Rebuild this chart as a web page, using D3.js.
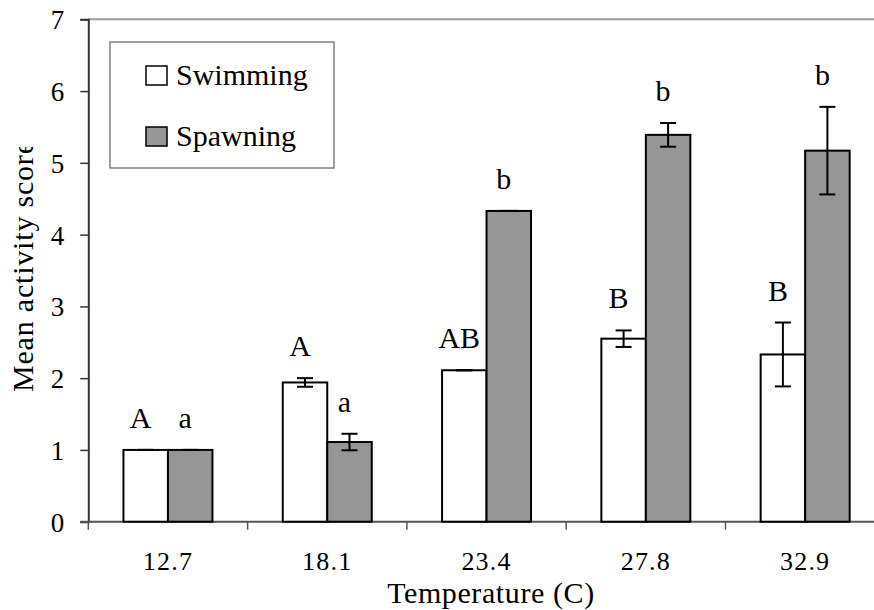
<!DOCTYPE html>
<html>
<head>
<meta charset="utf-8">
<script src="https://cdn.jsdelivr.net/npm/d3@7/dist/d3.min.js"></script>
<style>
  html, body { margin: 0; padding: 0; background: #fff; }
  svg { display: block; }
  text { font-family: "Liberation Serif", "Times New Roman", serif; fill: #000; }
</style>
</head>
<body>
<svg id="chart" width="874" height="610"></svg>
<script>
// Temperatures (C) at which activity was scored
const categories = ["12.7", "18.1", "23.4", "27.8", "32.9"];
const seriesNames = ["Swimming", "Spawning"];

// Mean activity scores and their error bars
const swimming = [1.00, 1.94, 2.11, 2.55, 2.33];
const swimmingErr = [0.00, 0.06, 0.00, 0.115, 0.445];
const spawning = [1.00, 1.11, 4.33, 5.39, 5.17];
const spawningErr = [0.00, 0.115, 0.00, 0.165, 0.61];

// Significance groupings printed above the bars
const swimmingLetters = ["A", "A", "AB", "B", "B"];
const spawningLetters = ["a", "a", "b", "b", "b"];

const yTicks = [0, 1, 2, 3, 4, 5, 6, 7];

const fills = { Swimming: "#ffffff", Spawning: "#969696" };

const svg = d3.select("#chart");

const plotLeft = 88.3, plotTop = 19.3, plotBottom = 521.7;
const catWidth = 159.3;
const barWidth = 44.5;

const x0 = d3.scaleBand()
  .domain(categories)
  .range([plotLeft, plotLeft + catWidth * categories.length])
  .padding(0);

const y = d3.scaleLinear().domain([0, 7]).range([plotBottom, plotTop]);

// Build rows from the arrays
const rows = categories.map((c, i) => [
  { cat: c, series: "Swimming", value: swimming[i], err: swimmingErr[i], letter: swimmingLetters[i] },
  { cat: c, series: "Spawning", value: spawning[i], err: spawningErr[i], letter: spawningLetters[i] }
]).flat();

const x1 = d3.scaleBand().domain(seriesNames).range([0, barWidth * 2]).padding(0);
const barX = d => x0(d.cat) + (x0.bandwidth() - barWidth * 2) / 2 + x1(d.series);

// Top frame line of the plot area
svg.append("line")
  .attr("x1", plotLeft).attr("x2", 874)
  .attr("y1", plotTop).attr("y2", plotTop)
  .attr("stroke", "#9a9a9a").attr("stroke-width", 2);

// Y axis
const yAxis = d3.axisLeft(y).tickValues(yTicks).tickFormat(d3.format("d")).tickSize(8).tickPadding(16);
const gy = svg.append("g").attr("transform", `translate(${plotLeft},0)`).call(yAxis)
  .attr("font-family", null);
gy.select(".domain").attr("stroke", "#333").attr("stroke-width", 2);
gy.selectAll(".tick line").attr("stroke", "#333").attr("stroke-width", 1.5);
gy.selectAll(".tick text")
  .attr("font-size", 27).attr("fill", "#000")
  .attr("dy", "0.35em");

// X axis: ticks sit on the category boundaries, labels at group centres
const gx = svg.append("g").attr("transform", `translate(0,${plotBottom})`);
gx.append("line")
  .attr("x1", plotLeft - 8).attr("x2", plotLeft + catWidth * categories.length)
  .attr("stroke", "#555").attr("stroke-width", 2);
const boundaries = d3.range(categories.length + 1).map(i => plotLeft + i * catWidth);
gx.selectAll("line.xt").data(boundaries).join("line")
  .attr("class", "xt")
  .attr("x1", d => d).attr("x2", d => d)
  .attr("y1", 0).attr("y2", 8)
  .attr("stroke", "#555").attr("stroke-width", 1.5);
gx.selectAll("text").data(categories).join("text")
  .attr("x", d => x0(d) + x0.bandwidth() / 2)
  .attr("y", 48)
  .attr("text-anchor", "middle")
  .attr("font-size", 26)
  .attr("letter-spacing", 1.2)
  .text(d => d);

// Bars
svg.append("g").selectAll("rect").data(rows).join("rect")
  .attr("x", barX)
  .attr("y", d => y(d.value))
  .attr("width", barWidth)
  .attr("height", d => y(0) - y(d.value))
  .attr("fill", d => fills[d.series])
  .attr("stroke", "#000")
  .attr("stroke-width", 2);

// Error bars
const eb = svg.append("g").attr("stroke", "#000").attr("stroke-width", 2);
rows.forEach(d => {
  const cx = barX(d) + barWidth / 2;
  const yHi = y(d.value + d.err), yLo = y(d.value - d.err);
  eb.append("line").attr("x1", cx).attr("x2", cx).attr("y1", yHi).attr("y2", yLo);
  eb.append("line").attr("x1", cx - 8).attr("x2", cx + 8).attr("y1", yHi).attr("y2", yHi);
  eb.append("line").attr("x1", cx - 8).attr("x2", cx + 8).attr("y1", yLo).attr("y2", yLo);
});

// Grouping letters
svg.append("g").selectAll("text").data(rows).join("text")
  .attr("x", d => barX(d) + barWidth / 2 - 5)
  .attr("y", d => y(d.value + d.err) - 22)
  .attr("text-anchor", "middle")
  .attr("font-size", 30)
  .text(d => d.letter);

// Legend
const lg = svg.append("g");
lg.append("rect")
  .attr("x", 110).attr("y", 42).attr("width", 224).attr("height", 126)
  .attr("fill", "#fff").attr("stroke", "#808080").attr("stroke-width", 1.5);
seriesNames.forEach((s, i) => {
  const yy = 66 + i * 61;
  lg.append("rect")
    .attr("x", 146).attr("y", yy).attr("width", 21).attr("height", 19)
    .attr("fill", fills[s]).attr("stroke", "#000").attr("stroke-width", 1.5);
  lg.append("text")
    .attr("x", 176).attr("y", yy + 19)
    .attr("font-size", 30)
    .text(s);
});

// Axis titles
svg.append("text")
  .attr("x", 491).attr("y", 603)
  .attr("text-anchor", "middle")
  .attr("font-size", 30)
  .attr("letter-spacing", 0.6)
  .text("Temperature (C)");

svg.append("clipPath").attr("id", "ytclip")
  .append("rect").attr("x", 0).attr("y", 147).attr("width", 60).attr("height", 300);
svg.append("g")
  .attr("clip-path", "url(#ytclip)")
  .append("text")
  .attr("transform", "translate(33,392) rotate(-90)")
  .attr("text-anchor", "start")
  .attr("font-size", 30)
  .attr("letter-spacing", 0.8)
  .text("Mean activity score");
</script>
</body>
</html>
